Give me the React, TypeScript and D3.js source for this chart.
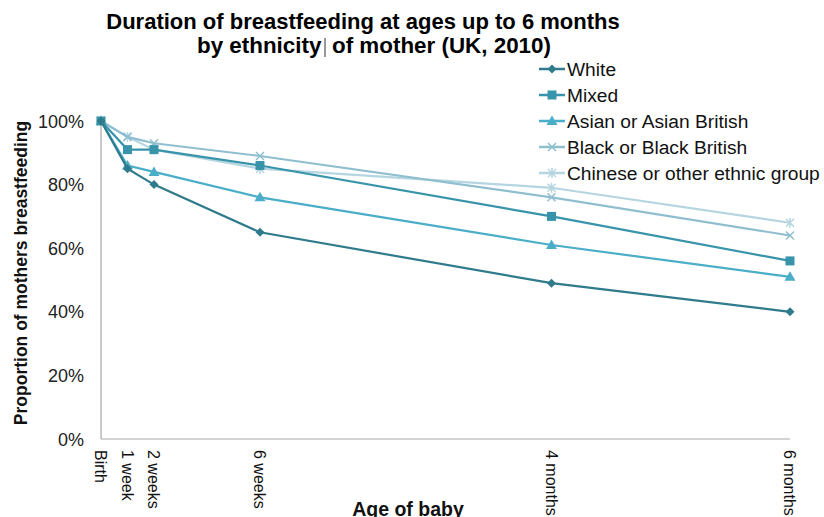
import React from "react";
import * as d3 from "d3";

const weeks = [0, 1, 2, 6, 17, 26];
const xLabels = ["Birth", "1 week", "2 weeks", "6 weeks", "4 months", "6 months"];
const yTicks = [0, 20, 40, 60, 80, 100];

const seriesNames = ["White", "Mixed", "Asian or Asian British", "Black or Black British", "Chinese or other ethnic group"];
const white = [100, 85, 80, 65, 49, 40];
const mixed = [100, 91, 91, 86, 70, 56];
const asian = [100, 86, 84, 76, 61, 51];
const black = [100, 95, 93, 89, 76, 64];
const chinese = [100, 95, 91, 85, 79, 68];
const seriesValues = [white, mixed, asian, black, chinese];
const colors = ["#2f7b8c", "#3794aa", "#4aaec8", "#8fbfcf", "#b5d5e0"];
const markers = ["diamond", "square", "triangle", "x", "asterisk"];

const W = 824, H = 517;
const x = d3.scaleLinear().domain([0, 26]).range([101, 790]);
const y = d3.scaleLinear().domain([0, 100]).range([439, 121]);

function Marker({ type, cx, cy, color }: { type: string; cx: number; cy: number; color: string }) {
  if (type === "diamond") {
    const s = 4.5;
    return <path d={`M${cx},${cy - s}L${cx + s},${cy}L${cx},${cy + s}L${cx - s},${cy}Z`} fill={color} />;
  }
  if (type === "square") {
    return <rect x={cx - 4.5} y={cy - 4.5} width={9} height={9} fill={color} />;
  }
  if (type === "triangle") {
    return <path d={`M${cx},${cy - 5.5}L${cx + 5.5},${cy + 4}L${cx - 5.5},${cy + 4}Z`} fill={color} />;
  }
  if (type === "x") {
    const s = 4;
    return <path d={`M${cx - s},${cy - s}L${cx + s},${cy + s}M${cx - s},${cy + s}L${cx + s},${cy - s}`} stroke={color} strokeWidth={1.5} />;
  }
  const s = 4;
  return <path d={`M${cx - s},${cy - s}L${cx + s},${cy + s}M${cx - s},${cy + s}L${cx + s},${cy - s}M${cx},${cy - s - 1}L${cx},${cy + s + 1}`} stroke={color} strokeWidth={1.5} />;
}

export default function App() {
  const line = d3.line<number>().x((_, i) => x(weeks[i])).y((d) => y(d));
  const font = "'Liberation Sans', Arial, sans-serif";
  const order = [4, 3, 2, 1, 0];
  return (
    <svg width={W} height={H} style={{ position: "absolute", left: 0, top: 0, background: "#fff" }} fontFamily={font}>
      <text x={363} y={29} textAnchor="middle" fontSize={22} fontWeight="bold" fill="#000">Duration of breastfeeding at ages up to 6 months</text>
      <text x={197} y={53} textAnchor="start" fontSize={22.4} fontWeight="bold" fill="#000">by ethnicity</text>
      <text x={332} y={53} textAnchor="start" fontSize={22.4} fontWeight="bold" fill="#000">of mother (UK, 2010)</text>
      <line x1={325} y1={38} x2={325} y2={57} stroke="#333" strokeWidth={1} />
      {/* axes */}
      <line x1={x(0)} y1={y(100)} x2={x(0)} y2={y(0)} stroke="#a6a6a6" strokeWidth={1.2} />
      <line x1={x(0)} y1={y(0)} x2={x(26)} y2={y(0)} stroke="#a6a6a6" strokeWidth={1.2} />
      {yTicks.map((t) => (
        <text key={t} x={84} y={y(t) + 6.5} textAnchor="end" fontSize={18} fill="#222">{t}%</text>
      ))}
      {weeks.map((w, i) => (
        <text key={i} transform={`translate(${x(w) - 6},450) rotate(90)`} fontSize={16} fill="#111">{xLabels[i]}</text>
      ))}
      <text transform={`translate(27,273) rotate(-90)`} textAnchor="middle" fontSize={17.5} fontWeight="bold" fill="#111">Proportion of mothers breastfeeding</text>
      <text x={408} y={516} textAnchor="middle" fontSize={19.5} fontWeight="bold" fill="#111">Age of baby</text>
      {order.map((si) => (
        <g key={si}>
          <path d={line(seriesValues[si]) || ""} fill="none" stroke={colors[si]} strokeWidth={2.2} />
          {seriesValues[si].map((v, i) => (
            <Marker key={i} type={markers[si]} cx={x(weeks[i])} cy={y(v)} color={colors[si]} />
          ))}
        </g>
      ))}
      {seriesNames.map((n, i) => {
        const ly = 69 + i * 26;
        return (
          <g key={n}>
            <line x1={539} y1={ly} x2={565} y2={ly} stroke={colors[i]} strokeWidth={2.5} />
            <Marker type={markers[i]} cx={552} cy={ly} color={colors[i]} />
            <text x={567} y={ly + 7} fontSize={19.2} fill="#111">{n}</text>
          </g>
        );
      })}
    </svg>
  );
}
